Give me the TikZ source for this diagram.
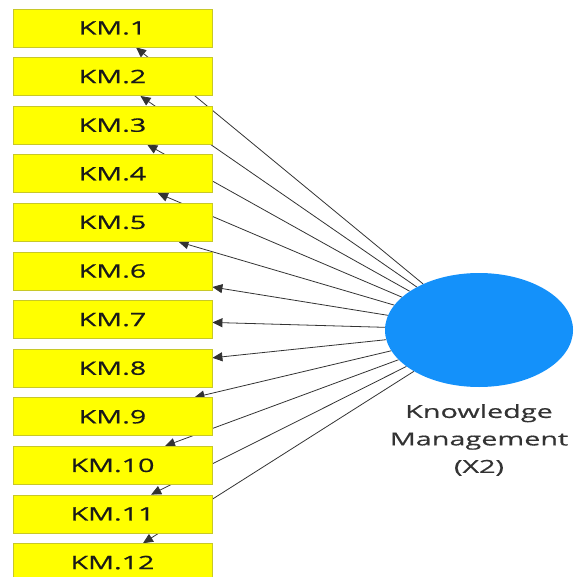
\documentclass[tikz,border=0pt]{standalone}
\usepackage{fontspec}
\usetikzlibrary{shapes.geometric,arrows.meta,backgrounds}
\newfontfamily\plsfont[FakeStretch=1.55,FakeBold=0.7]{Open Sans}
\newfontfamily\lvfont[FakeStretch=1.6,FakeBold=0.5]{Open Sans}
\definecolor{indyellow}{RGB}{255,255,0}
\definecolor{indborder}{RGB}{200,200,40}
\definecolor{lvblue}{RGB}{20,145,250}

\begin{document}
\begin{tikzpicture}[
  x=1pt, y=-1pt,
  indicator/.style={rectangle, draw=indborder, fill=indyellow, line width=0.8pt, minimum width=199pt, minimum height=38pt, inner sep=0pt, text=black!90, font=\plsfont\fontsize{18.5}{22}\selectfont},
  latent/.style={ellipse, fill=lvblue, minimum width=188pt, minimum height=114pt, inner sep=0pt},
  loading/.style={-{Triangle[length=10pt,width=9pt]}, line width=0.8pt, black!80}
]
\useasboundingbox (0,0) rectangle (576,577);

% Indicator boxes
\node (km1) at (112.5,28) [indicator] {KM.1};
\node (km2) at (112.5,76.6) [indicator] {KM.2};
\node (km3) at (112.5,125.2) [indicator] {KM.3};
\node (km4) at (112.5,173.8) [indicator] {KM.4};
\node (km5) at (112.5,222.4) [indicator] {KM.5};
\node (km6) at (112.5,271) [indicator] {KM.6};
\node (km7) at (112.5,319.6) [indicator] {KM.7};
\node (km8) at (112.5,368.2) [indicator] {KM.8};
\node (km9) at (112.5,416.8) [indicator] {KM.9};
\node (km10) at (112.5,465.4) [indicator] {KM.10};
\node (km11) at (112.5,514) [indicator] {KM.11};
\node (km12) at (112.5,562.6) [indicator] {KM.12};

% Latent variable
\node (km-lv) at (479,330) [latent] {};
\node (km-lbl) at (479,440) [align=center, text=black!80, font=\lvfont\fontsize{18}{27.5}\selectfont] {Knowledge\\Management\\(X2)};

% Loadings
\begin{pgfonlayer}{background}
\draw[loading] (km-lv) -- (km1);
\draw[loading] (km-lv) -- (km2);
\draw[loading] (km-lv) -- (km3);
\draw[loading] (km-lv) -- (km4);
\draw[loading] (km-lv) -- (km5);
\draw[loading] (km-lv) -- (km6);
\draw[loading] (km-lv) -- (km7);
\draw[loading] (km-lv) -- (km8);
\draw[loading] (km-lv) -- (km9);
\draw[loading] (km-lv) -- (km10);
\draw[loading] (km-lv) -- (km11);
\draw[loading] (km-lv) -- (km12);
\end{pgfonlayer}

\end{tikzpicture}
\end{document}
